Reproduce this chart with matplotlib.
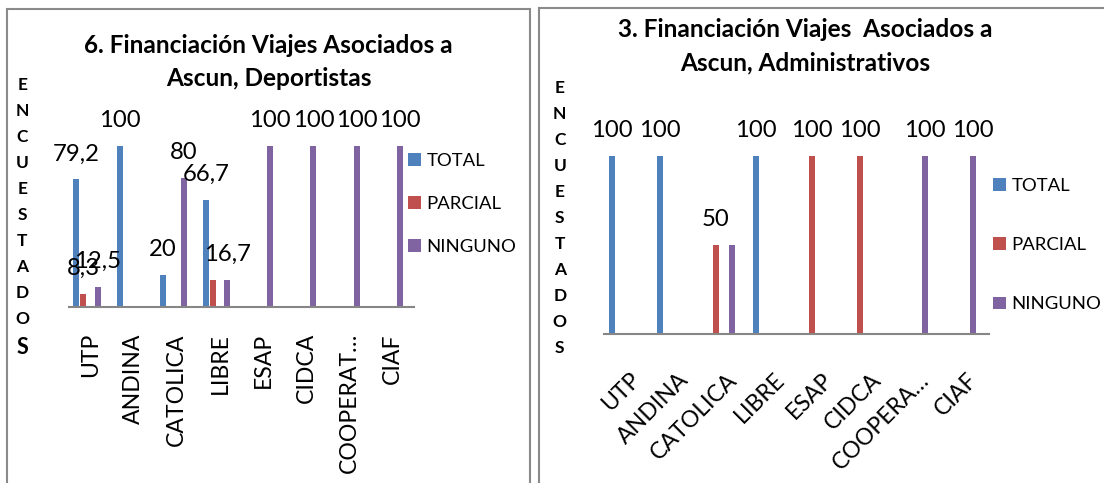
import matplotlib
matplotlib.use("Agg")
import matplotlib.pyplot as plt
from matplotlib.patches import Rectangle
from matplotlib.transforms import ScaledTranslation

plt.rcParams['font.family'] = ['Lato', 'DejaVu Sans']

# ---------------- data ----------------
cats_left = ["UTP", "ANDINA", "CATOLICA", "LIBRE", "ESAP", "CIDCA", "COOPERAT…", "CIAF"]
cats_right = ["UTP", "ANDINA", "CATOLICA", "LIBRE", "ESAP", "CIDCA", "COOPERA…", "CIAF"]
series = ["TOTAL", "PARCIAL", "NINGUNO"]

left_total = [79.2, 100, 20, 66.7, 0, 0, 0, 0]
left_parcial = [8.3, 0, 0, 16.7, 0, 0, 0, 0]
left_ninguno = [12.5, 0, 80, 16.7, 100, 100, 100, 100]

right_total = [100, 100, 0, 100, 0, 0, 0, 0]
right_parcial = [0, 0, 50, 0, 100, 100, 0, 0]
right_ninguno = [0, 0, 50, 0, 0, 0, 100, 100]

# data labels not shown in the reference (series index, category index)
left_hidden_labels = [(1, 3)]
right_hidden_labels = [(2, 2)]

title_left = ["6. Financiación Viajes Asociados a", "Ascun, Deportistas"]
title_right = ["3. Financiación Viajes  Asociados a", "Ascun, Administrativos"]
ylabel_text = "ENCUESTADOS"

colors = ["#4F81BD", "#C0504D", "#8064A2"]
W, H = 1104, 483

fig = plt.figure(figsize=(W / 100, H / 100), dpi=100)


def fx(x):
    return x / W


def fy(y):
    return 1 - y / H


def fmt(v):
    s = ("%.1f" % v).rstrip("0").rstrip(".")
    return s.replace(".", ",")


# panel borders
fig.patches.append(Rectangle((fx(7), fy(500)), fx(530 - 7), (500 - 8.7) / H,
                             transform=fig.transFigure, fill=False,
                             edgecolor="#8a8a8a", linewidth=1.5))
fig.patches.append(Rectangle((fx(538.5), fy(500)), fx(1200 - 538.5), (500 - 8.3) / H,
                             transform=fig.transFigure, fill=False,
                             edgecolor="#8a8a8a", linewidth=1.5))


def draw_panel(rect, cats, data, hidden, slot, bw, rot, tick_pad, xshift):
    ax = fig.add_axes(rect)
    offsets = [-2 * slot, -1 * slot, 1 * slot]
    xs = list(range(len(cats)))
    handles = []
    for k, vals in enumerate(data):
        pos = [x + offsets[k] for x in xs]
        b = ax.bar(pos, vals, width=bw, color=colors[k], label=series[k], zorder=2)
        handles.append(b)
        for i, v in enumerate(vals):
            if v > 0 and (k, i) not in hidden:
                ax.annotate(fmt(v), (pos[i], v), xytext=(0, 19),
                            textcoords="offset pixels", ha="center",
                            va="baseline", fontsize=17.2, color="black",
                            annotation_clip=False)
    ax.set_xlim(-0.5, len(cats) - 0.5)
    ax.set_ylim(0, 100)
    for s in ["top", "right", "left"]:
        ax.spines[s].set_visible(False)
    ax.spines["bottom"].set_color("#868686")
    ax.spines["bottom"].set_linewidth(1.5)
    ax.spines["bottom"].set_zorder(3)
    ax.set_yticks([])
    ax.set_xticks(xs)
    ax.tick_params(axis="x", length=0, pad=tick_pad)
    if rot == 90:
        ax.set_xticklabels(cats, rotation=90, ha="center", va="top", fontsize=16.6)
    else:
        ax.set_xticklabels(cats, rotation=45, ha="right", va="top",
                           rotation_mode="anchor", fontsize=16.6)
    for lab in ax.get_xticklabels():
        lab.set_transform(lab.get_transform() +
                          ScaledTranslation(xshift / 100, 0, fig.dpi_scale_trans))
    ax.patch.set_visible(False)
    return ax, handles


axL, hL = draw_panel([fx(68.9), fy(307), 345.4 / W, 161 / H], cats_left,
                     [left_total, left_parcial, left_ninguno], left_hidden_labels,
                     0.164, 0.139, 90, 26 * 0.72, 0)
axR, hR = draw_panel([fx(603.9), fy(333.5), 384.7 / W, 177.5 / H], cats_right,
                     [right_total, right_parcial, right_ninguno], right_hidden_labels,
                     0.170, 0.125, 45, 35.5 * 0.72, 2)

# legends
fig.legend(handles=hL, labels=series, loc="center left",
           bbox_to_anchor=(fx(408), fy(204)), frameon=False, fontsize=13.3,
           handlelength=0.69, handleheight=0.69, handletextpad=0.3,
           labelspacing=1.46, borderpad=0, borderaxespad=0)
fig.legend(handles=hR, labels=series, loc="center left",
           bbox_to_anchor=(fx(993), fy(245)), frameon=False, fontsize=13.3,
           handlelength=0.69, handleheight=0.69, handletextpad=0.3,
           labelspacing=2.35, borderpad=0, borderaxespad=0)

# titles
TS = 17.6
fig.text(fx(268.6), fy(53.3), title_left[0], ha="center", va="baseline",
         fontsize=TS, fontweight="bold")
fig.text(fx(268.6), fy(86), title_left[1], ha="center", va="baseline",
         fontsize=TS, fontweight="bold")
fig.text(fx(805.5), fy(36.7), title_right[0], ha="center", va="baseline",
         fontsize=TS, fontweight="bold")
fig.text(fx(805.5), fy(70), title_right[1], ha="center", va="baseline",
         fontsize=TS, fontweight="bold")

# vertical stacked y-axis labels
n = len(ylabel_text)
for i, ch in enumerate(ylabel_text):
    last = (i == n - 1)
    yl = 348 if last else 85 + 26 * i
    fig.text(fx(22.4), fy(yl), ch, ha="center", va="center",
             fontsize=15.5 if last else 12.5, fontweight="bold")
    fig.text(fx(559.7), fy(88 + 26 * i), ch, ha="center", va="center",
             fontsize=12.5, fontweight="bold")

fig.savefig("out.png", dpi=100)
